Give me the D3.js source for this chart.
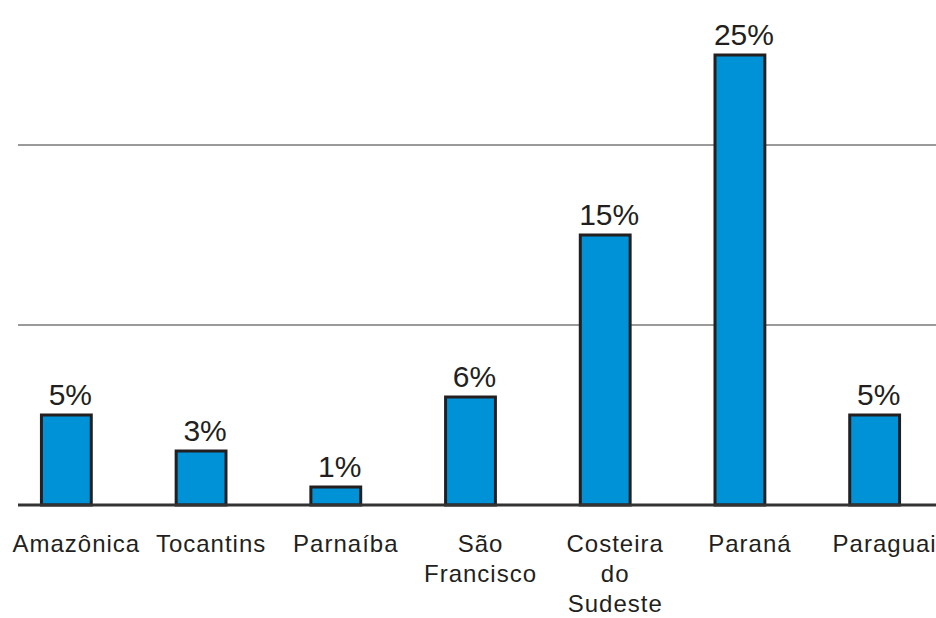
<!DOCTYPE html>
<html>
<head>
<meta charset="utf-8">
<script src="https://cdn.jsdelivr.net/npm/d3@7"></script>
<style>
  body { margin: 0; background: #fff; }
  svg { display: block; }
  .value-label { font-family: "Liberation Sans", Arial, Helvetica, sans-serif; font-size: 30px; fill: #231f20; }
  .cat-label { font-family: "Liberation Sans", Arial, Helvetica, sans-serif; font-size: 24px; fill: #231f20; letter-spacing: 1px; }
</style>
</head>
<body>
<svg class="barchart" width="936" height="618"></svg>
<script>
// data
let regions = ["Amazônica", "Tocantins", "Parnaíba", "São Francisco", "Costeira do Sudeste", "Paraná", "Paraguai"];
let regionLines = [["Amazônica"], ["Tocantins"], ["Parnaíba"], ["São", "Francisco"], ["Costeira", "do", "Sudeste"], ["Paraná"], ["Paraguai"]];
let shares = [5, 3, 1, 6, 15, 25, 5];
let gridValues = [10, 20];

let drawBarChart = function(){
  let svg = d3.select("body").select(".barchart");

  let baseY = 505;
  //scales
  let xScale = d3.scaleBand()
          .domain(regions)
          .range([-1, 942])
          .paddingInner(0.63)
          .paddingOuter(0.315);
  let yScale = d3.scaleLinear()
          .domain([0, 25])
          .range([baseY, 55]);

  //grid lines
  svg.append("g").attr("id", "grid")
    .selectAll("line")
    .data(gridValues)
    .join("line")
      .attr("x1", 18)
      .attr("x2", 936)
      .attr("y1", d => yScale(d))
      .attr("y2", d => yScale(d))
      .attr("stroke", "#9a9a9a")
      .attr("stroke-width", 2);

  //bars
  let data = regions.map((r, i) => ({region: r, value: shares[i], lines: regionLines[i]}));
  let plot = svg.append("g").attr("id", "plot");
  plot.selectAll("rect")
    .data(data)
    .join("rect")
      .attr("x", d => xScale(d.region))
      .attr("y", d => yScale(d.value))
      .attr("width", xScale.bandwidth())
      .attr("height", d => baseY - yScale(d.value))
      .attr("fill", "#0092d6")
      .attr("stroke", "#231f20")
      .attr("stroke-width", 3);

  //baseline
  svg.append("line")
    .attr("x1", 18)
    .attr("x2", 936)
    .attr("y1", baseY)
    .attr("y2", baseY)
    .attr("stroke", "#333")
    .attr("stroke-width", 3);

  //value labels
  plot.selectAll(".value-label")
    .data(data)
    .join("text")
      .attr("class", "value-label")
      .attr("x", d => xScale(d.region) + xScale.bandwidth() / 2 + 4)
      .attr("y", d => yScale(d.value) - 10)
      .style("text-anchor", "middle")
      .text(d => d.value + "%");

  //category labels
  let cats = svg.append("g").attr("id", "x-labels")
    .selectAll("text")
    .data(data)
    .join("text")
      .attr("class", "cat-label")
      .attr("transform", d => translate(xScale(d.region) + xScale.bandwidth() / 2 + 10, 552))
      .style("text-anchor", "middle");
  cats.selectAll("tspan")
    .data(d => d.lines)
    .join("tspan")
      .attr("x", 0)
      .attr("y", (d, i) => i * 30)
      .text(d => d);
};

function translate(x, y) {
  return 'translate(' + x + ',' + y + ')';
}

drawBarChart();
</script>
</body>
</html>
